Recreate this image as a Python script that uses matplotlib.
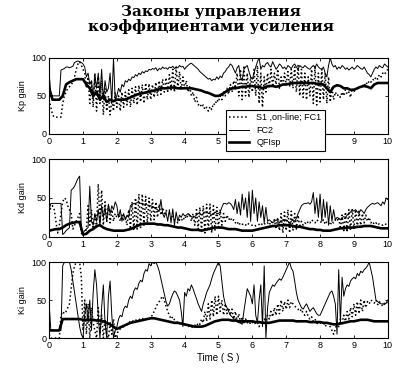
import numpy as np
import matplotlib.pyplot as plt

# time grids (s)
t_fine = np.linspace(0, 10, 201)    # 0.05 s step
t_coarse = np.linspace(0, 10, 101)  # 0.1 s step

# ---- Kp gain ----
kp_s1 = [45, 35, 25, 22, 22, 22, 22, 22, 40, 50, 55, 60, 62, 65, 68, 75, 85, 92, 95, 90,
         85, 80, 60, 75, 40, 70, 35, 80, 30, 75, 40, 70, 25, 60, 30, 50, 25, 45, 30, 55,
         35, 50, 30, 55, 35, 55, 38, 58, 35, 60, 40, 62, 38, 64, 42, 65, 40, 67, 45, 66,
         45, 65, 48, 68, 50, 70, 52, 72, 55, 74, 56, 78, 58, 85, 55, 88, 60, 82, 58, 75,
         60, 70, 55, 62, 50, 55, 42, 48, 38, 40, 35, 38, 32, 35, 30, 36, 32, 40, 38, 45,
         42, 50, 45, 55, 50, 60, 52, 65, 55, 70, 60, 80, 50, 85, 45, 90, 50, 80, 48, 75,
         55, 85, 50, 90, 40, 80, 35, 75, 55, 80, 60, 85, 62, 80, 65, 85, 60, 75, 62, 80,
         65, 82, 62, 85, 60, 88, 55, 90, 50, 85, 48, 80, 45, 75, 50, 85, 40, 90, 38, 80,
         42, 85, 45, 80, 40, 75, 42, 60, 45, 55, 50, 52, 48, 55, 50, 58, 52, 55, 48, 60,
         55, 60, 58, 62, 60, 65, 62, 68, 65, 70, 68, 72, 70, 75, 72, 78, 75, 80, 78, 82,
         85]
kp_fc2 = [80, 52, 50, 50, 50, 50, 50, 84, 85, 86, 88, 88, 87, 88, 89, 94, 95, 96, 95, 94,
          92, 88, 75, 80, 65, 70, 45, 78, 60, 80, 50, 85, 45, 70, 55, 60, 80, 40, 100, 45,
          50, 60, 55, 65, 62, 70, 68, 72, 70, 75, 74, 78, 76, 80, 78, 82, 80, 83, 82, 85,
          84, 86, 85, 87, 83, 86, 85, 88, 86, 87, 85, 88, 87, 89, 86, 88, 87, 90, 88, 89,
          85, 88, 90, 92, 93, 91, 89, 87, 85, 82, 80, 78, 76, 74, 72, 73, 70, 72, 71, 75,
          72, 76, 74, 80, 82, 86, 88, 92, 90, 85, 80, 87, 90, 75, 70, 85, 88, 90, 82, 75,
          72, 80, 88, 95, 100, 85, 90, 88, 92, 94, 90, 88, 95, 90, 85, 88, 92, 90, 86, 88,
          85, 90, 88, 86, 90, 92, 88, 85, 90, 88, 87, 90, 88, 86, 85, 88, 90, 87, 92, 88,
          86, 85, 88, 80, 75, 90, 100, 92, 88, 90, 85, 88, 86, 90, 88, 85, 87, 84, 86, 88,
          85, 87, 90, 88, 86, 85, 88, 84, 80, 78, 75, 80, 85, 88, 86, 90, 88, 87, 92, 90,
          88]
kp_qf = [60, 45, 45, 45, 50, 65, 68, 70, 72, 72,
         72, 65, 60, 50, 55, 45, 50, 42, 45, 43,
         45, 45, 45, 46, 48, 50, 52, 53, 54, 55,
         56, 57, 58, 60, 60, 60, 61, 61, 60, 60,
         60, 60, 60, 59, 58, 57, 55, 54, 52, 50,
         50, 52, 55, 58, 60, 60, 61, 62, 62, 63,
         63, 62, 62, 60, 62, 63, 63, 62, 63, 65,
         65, 66, 67, 67, 67, 67, 67, 67, 67, 66,
         66, 65, 60, 55, 62, 64, 63, 60, 60, 58,
         58, 60, 62, 63, 62, 60, 65, 67, 67, 67,
         67]

# ---- Kd gain ----
kd_s1 = [30, 38, 40, 35, 20, 5, 15, 30, 45, 50, 48, 40, 35, 30, 10, 15, 20, 25, 30, 5,
         2, 5, 10, 40, 15, 35, 10, 30, 12, 68, 20, 60, 15, 45, 20, 40, 18, 35, 20, 30,
         25, 30, 20, 28, 22, 25, 15, 35, 10, 45, 8, 50, 10, 55, 12, 55, 15, 52, 18, 50,
         20, 48, 22, 45, 25, 42, 28, 38, 30, 34, 32, 30, 28, 25, 22, 20, 18, 22, 20, 25,
         22, 28, 25, 30, 20, 30, 15, 35, 10, 38, 8, 40, 5, 42, 8, 42, 5, 40, 8, 38,
         10, 35, 15, 30, 20, 28, 22, 25, 20, 22, 18, 20, 15, 18, 16, 17, 15, 18, 16, 15,
         15, 16, 14, 15, 16, 18, 15, 17, 16, 18, 15, 20, 18, 22, 10, 25, 8, 30, 5, 32,
         8, 35, 5, 33, 8, 30, 10, 28, 12, 20, 15, 18, 16, 20, 18, 22, 20, 18, 22, 20,
         20, 18, 22, 16, 20, 18, 15, 20, 18, 22, 20, 25, 10, 28, 8, 32, 6, 35, 8, 36,
         10, 35, 12, 33, 15, 30, 18, 28, 20, 25, 18, 20, 16, 18, 15, 17, 16, 15, 17, 16,
         15]
kd_fc2 = [35, 43, 43, 43, 43, 43, 43, 43, 3, 5, 8, 10, 12, 60, 62, 65, 70, 75, 78, 10,
          5, 8, 10, 12, 65, 20, 15, 30, 20, 35, 15, 40, 25, 38, 20, 42, 30, 40, 35, 45,
          40, 25, 35, 20, 30, 22, 28, 25, 40, 42, 43, 43, 44, 44, 43, 43, 42, 42, 41, 40,
          40, 39, 38, 36, 35, 33, 48, 30, 25, 32, 20, 35, 18, 36, 15, 32, 20, 28, 25, 30,
          27, 28, 30, 28, 26, 25, 26, 28, 30, 30, 28, 30, 32, 32, 30, 30, 28, 30, 32, 30,
          30, 32, 38, 43, 43, 42, 44, 43, 40, 35, 48, 30, 45, 28, 55, 35, 50, 25, 58, 20,
          60, 30, 50, 20, 45, 25, 40, 18, 38, 20, 22, 20, 18, 20, 22, 20, 18, 20, 22, 20,
          22, 20, 18, 20, 22, 20, 24, 30, 35, 40, 42, 43, 43, 44, 42, 45, 57, 30, 50, 25,
          55, 20, 48, 25, 45, 15, 40, 20, 35, 22, 25, 24, 22, 25, 26, 25, 28, 30, 32, 35,
          33, 35, 32, 30, 35, 33, 30, 35, 38, 40, 42, 43, 42, 43, 44, 42, 40, 45, 42, 50,
          48]
kd_qf = [8, 9, 10, 10, 12, 15, 17, 18, 19, 19,
         3, 4, 8, 10, 14, 15, 12, 10, 9, 8,
         8, 8, 8, 9, 10, 12, 14, 16, 17, 17,
         17, 17, 16, 16, 15, 15, 14, 13, 12, 12,
         11, 10, 9, 9, 9, 8, 9, 10, 11, 12,
         12, 12, 11, 10, 10, 10, 9, 8, 8, 8,
         8, 9, 10, 11, 12, 13, 14, 14, 15, 15,
         15, 15, 14, 13, 13, 12, 11, 10, 10, 9,
         9, 8, 8, 8, 9, 10, 11, 11, 12, 12,
         12, 13, 13, 14, 14, 14, 13, 12, 11, 11,
         11]

# ---- Ki gain ----
ki_s1 = [5, 0, 0, 0, 0, 0, 0, 30, 35, 32, 35, 40, 45, 65, 85, 95, 100, 100, 100, 80,
         10, 50, 5, 45, 0, 40, 20, 10, 0, 40, 5, 30, 0, 25, 5, 0, 20, 5, 25, 0,
         5, 10, 12, 14, 15, 16, 18, 20, 22, 21, 24, 23, 25, 24, 26, 25, 27, 25, 26, 25,
         28, 30, 35, 40, 45, 48, 52, 55, 50, 42, 35, 30, 25, 28, 24, 22, 20, 18, 22, 20,
         18, 16, 15, 16, 14, 15, 17, 15, 20, 18, 25, 20, 35, 22, 45, 25, 50, 28, 55, 30,
         55, 35, 50, 30, 45, 32, 40, 30, 38, 25, 35, 22, 32, 20, 28, 18, 25, 20, 22, 18,
         20, 22, 18, 20, 15, 22, 20, 25, 22, 30, 25, 35, 28, 40, 30, 45, 32, 50, 35, 48,
         38, 50, 40, 48, 45, 42, 40, 38, 35, 38, 32, 30, 35, 28, 25, 28, 22, 25, 20, 18,
         20, 18, 22, 15, 18, 20, 15, 10, 5, 12, 20, 15, 25, 20, 30, 22, 35, 25, 40, 28,
         45, 30, 48, 32, 50, 35, 50, 40, 48, 45, 50, 48, 46, 50, 44, 48, 45, 42, 46, 48,
         45]
ki_fc2 = [45, 10, 10, 10, 10, 10, 10, 10, 95, 100, 100, 100, 100, 90, 75, 60, 45, 30, 15, 5,
          0, 30, 45, 20, 50, 10, 60, 90, 70, 30, 0, 40, 70, 20, 0, 55, 75, 30, 0, 10,
          15, 25, 30, 28, 38, 42, 40, 50, 55, 52, 62, 66, 64, 72, 76, 74, 85, 90, 88, 98,
          95, 100, 98, 100, 95, 88, 78, 68, 58, 48, 42, 45, 52, 58, 62, 60, 55, 50, 35, 15,
          60, 55, 65, 62, 70, 65, 58, 52, 45, 40, 35, 45, 52, 60, 65, 70, 78, 85, 90, 95,
          100, 95, 75, 55, 45, 40, 35, 30, 28, 25, 25, 22, 20, 20, 18, 35, 50, 65, 60, 55,
          45, 70, 30, 20, 50, 70, 15, 95, 0, 40, 60, 65, 70, 68, 72, 75, 78, 76, 80, 85,
          90, 95, 100, 92, 88, 75, 60, 50, 45, 40, 38, 42, 45, 40, 35, 38, 40, 36, 32, 30,
          30, 35, 40, 45, 50, 55, 60, 62, 55, 45, 5, 90, 20, 80, 55, 65, 70, 68, 75, 78,
          80, 78, 85, 82, 88, 86, 90, 92, 95, 100, 90, 80, 65, 50, 48, 46, 45, 45, 44, 46,
          50]
ki_qf = [10, 10, 10, 10, 25, 25, 25, 25, 25, 25,
         24, 24, 24, 24, 23, 23, 22, 20, 18, 15,
         12, 14, 16, 18, 20, 21, 22, 23, 24, 25,
         26, 26, 25, 24, 23, 22, 21, 20, 20, 19,
         18, 17, 16, 15, 15, 15, 16, 18, 20, 22,
         23, 24, 24, 24, 23, 23, 22, 22, 22, 22,
         22, 21, 21, 20, 20, 20, 21, 22, 23, 23,
         23, 23, 23, 22, 22, 22, 22, 21, 21, 21,
         21, 20, 20, 19, 18, 18, 19, 20, 21, 22,
         22, 23, 24, 24, 24, 23, 22, 22, 22, 22,
         22]

ylabels = ['Kp gain', 'Kd gain', 'Ki gain']
legend_labels = ['S1 ,on-line; FC1', 'FC2', 'QFIsp']
panels = [(kp_s1, kp_fc2, kp_qf), (kd_s1, kd_fc2, kd_qf), (ki_s1, ki_fc2, ki_qf)]

plt.rcParams['font.family'] = ['Liberation Sans', 'DejaVu Sans']

fig = plt.figure(figsize=(4.13, 3.76), dpi=100)

# axes boxes in figure fractions: [left, bottom, width, height]
boxes = [[0.119, 0.644, 0.820, 0.202],
         [0.119, 0.370, 0.820, 0.207],
         [0.119, 0.101, 0.820, 0.202]]

lines = None
for box, (s1, fc2, qf), ylab in zip(boxes, panels, ylabels):
    ax = fig.add_axes(box)
    l1, = ax.plot(t_fine, s1, color='black', linestyle=':', linewidth=1.1)
    l2, = ax.plot(t_fine, fc2, color='black', linestyle='-', linewidth=0.7)
    l3, = ax.plot(t_coarse, qf, color='black', linestyle='-', linewidth=1.9)
    lines = [l1, l2, l3]
    ax.set_xlim(0, 10)
    ax.set_ylim(0, 100)
    ax.set_xticks(range(0, 11))
    ax.set_yticks([0, 50, 100])
    ax.tick_params(direction='in', top=True, right=True, labelsize=6.5,
                   length=2.5, width=0.6, pad=2)
    ax.set_ylabel(ylab, fontsize=6.5, labelpad=3)
    for sp in ax.spines.values():
        sp.set_linewidth(0.8)

ax.set_xlabel('Time ( S )', fontsize=7, labelpad=2)

fig.text(0.51, 0.987, 'Законы управления\nкоэффициентами усиления',
         ha='center', va='top', fontsize=11, fontweight='bold',
         family=['DejaVu Serif'], linespacing=1.05)

leg = fig.legend(lines, legend_labels, loc='upper left',
                 bbox_to_anchor=(226 / 413, 1 - 110 / 376), fontsize=6.5,
                 frameon=True, fancybox=False, edgecolor='black',
                 framealpha=1, borderpad=0.35, labelspacing=0.4,
                 handlelength=2.2, handletextpad=0.8, borderaxespad=0)
leg.get_frame().set_linewidth(0.8)

fig.savefig('out.png', dpi=100)
